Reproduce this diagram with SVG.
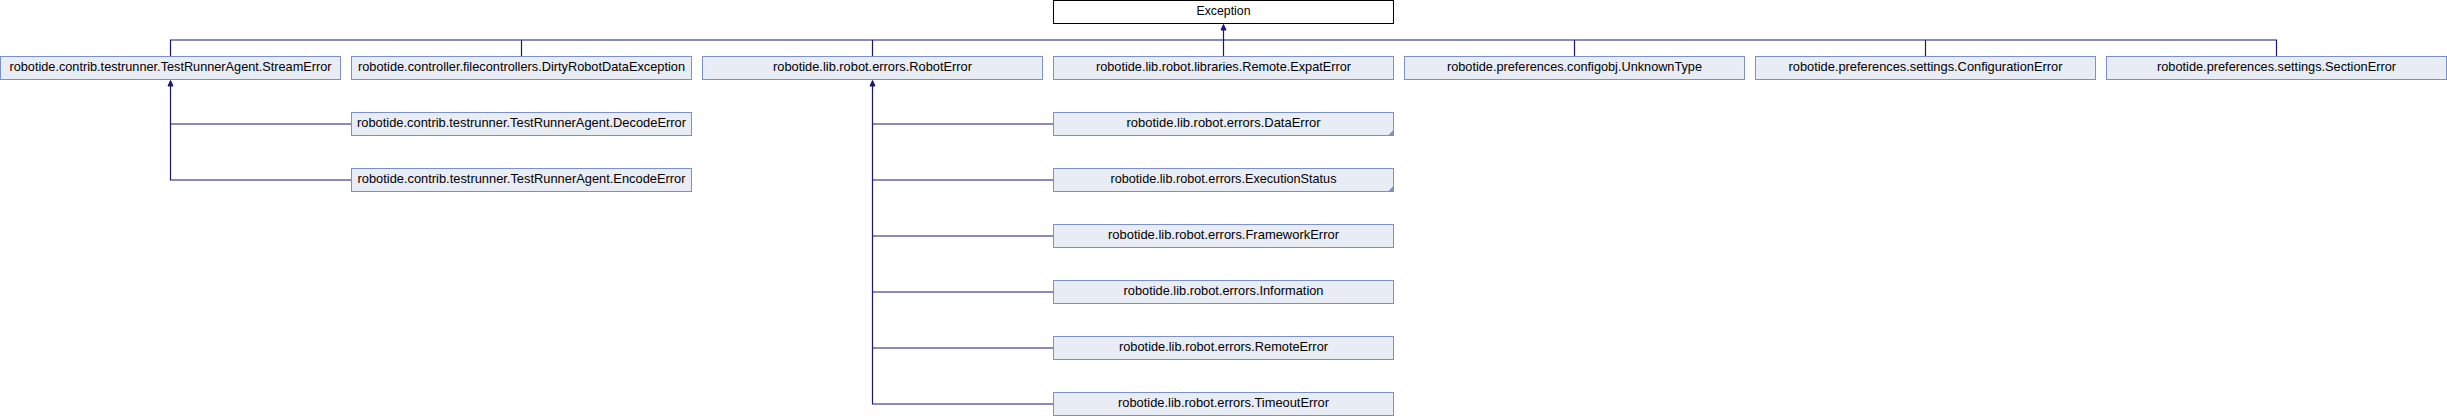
<svg xmlns="http://www.w3.org/2000/svg" width="2447" height="416" viewBox="0 0 2447 416">
<style>
.n{fill:#e8ecf5;stroke:#7b8fc9;stroke-width:1}
.w{fill:#ffffff;stroke:#000000;stroke-width:1}
.t{font-family:"Liberation Sans",Arial,sans-serif;font-size:12.7px;fill:#000000;text-anchor:middle}
.e{fill:none;stroke:#191970;stroke-width:1.2}
.a{fill:#191970;stroke:#191970;stroke-width:1}
.c{fill:#7b8fc9}
</style>
<rect width="2447" height="416" fill="#ffffff"/>
<g id="connectors">
<path class="e" d="M1223.5,30 V56.5 M170.5,56.5 V40 H2276.5 V56.5 M521.5,40 V56.5 M872.5,40 V56.5 M1574.5,40 V56.5 M1925.5,40 V56.5"/>
<polygon class="a" points="1223.5,24.5 1226,30 1221,30"/>
<path class="e" d="M170.5,86 V180 H351.5 M170.5,124 H351.5"/>
<polygon class="a" points="170.5,80.5 173,86 168,86"/>
<path class="e" d="M872.5,86 V404 H1053.5 M872.5,124 H1053.5 M872.5,180 H1053.5 M872.5,236 H1053.5 M872.5,292 H1053.5 M872.5,348 H1053.5"/>
<polygon class="a" points="872.5,80.5 875,86 870,86"/>
</g>
<g id="node-exception"><rect class="w" x="1053.5" y="0.5" width="340" height="23"/><text class="t" x="1223.5" y="15.3" textLength="54" lengthAdjust="spacingAndGlyphs">Exception</text></g>
<g id="node-streamerror"><rect class="n" x="0.5" y="56.5" width="340" height="23"/><text class="t" x="170.5" y="71" textLength="322" lengthAdjust="spacingAndGlyphs">robotide.contrib.testrunner.TestRunnerAgent.StreamError</text></g>
<g id="node-dirty"><rect class="n" x="351.5" y="56.5" width="340" height="23"/><text class="t" x="521.5" y="71" textLength="327" lengthAdjust="spacingAndGlyphs">robotide.controller.filecontrollers.DirtyRobotDataException</text></g>
<g id="node-roboterror"><rect class="n" x="702.5" y="56.5" width="340" height="23"/><text class="t" x="872.5" y="71" textLength="199" lengthAdjust="spacingAndGlyphs">robotide.lib.robot.errors.RobotError</text></g>
<g id="node-expaterror"><rect class="n" x="1053.5" y="56.5" width="340" height="23"/><text class="t" x="1223.5" y="71" textLength="255" lengthAdjust="spacingAndGlyphs">robotide.lib.robot.libraries.Remote.ExpatError</text></g>
<g id="node-unknowntype"><rect class="n" x="1404.5" y="56.5" width="340" height="23"/><text class="t" x="1574.5" y="71" textLength="255" lengthAdjust="spacingAndGlyphs">robotide.preferences.configobj.UnknownType</text></g>
<g id="node-configerror"><rect class="n" x="1755.5" y="56.5" width="340" height="23"/><text class="t" x="1925.5" y="71" textLength="274" lengthAdjust="spacingAndGlyphs">robotide.preferences.settings.ConfigurationError</text></g>
<g id="node-sectionerror"><rect class="n" x="2106.5" y="56.5" width="340" height="23"/><text class="t" x="2276.5" y="71" textLength="239" lengthAdjust="spacingAndGlyphs">robotide.preferences.settings.SectionError</text></g>
<g id="node-decodeerror"><rect class="n" x="351.5" y="112.5" width="340" height="23"/><text class="t" x="521.5" y="127" textLength="329" lengthAdjust="spacingAndGlyphs">robotide.contrib.testrunner.TestRunnerAgent.DecodeError</text></g>
<g id="node-encodeerror"><rect class="n" x="351.5" y="168.5" width="340" height="23"/><text class="t" x="521.5" y="183" textLength="328" lengthAdjust="spacingAndGlyphs">robotide.contrib.testrunner.TestRunnerAgent.EncodeError</text></g>
<g id="node-dataerror"><rect class="n" x="1053.5" y="112.5" width="340" height="23"/><polygon class="c" points="1393.5,130 1393.5,135.5 1388,135.5"/><text class="t" x="1223.5" y="127" textLength="194" lengthAdjust="spacingAndGlyphs">robotide.lib.robot.errors.DataError</text></g>
<g id="node-executionstatus"><rect class="n" x="1053.5" y="168.5" width="340" height="23"/><polygon class="c" points="1393.5,186 1393.5,191.5 1388,191.5"/><text class="t" x="1223.5" y="183" textLength="226" lengthAdjust="spacingAndGlyphs">robotide.lib.robot.errors.ExecutionStatus</text></g>
<g id="node-frameworkerror"><rect class="n" x="1053.5" y="224.5" width="340" height="23"/><text class="t" x="1223.5" y="239" textLength="231" lengthAdjust="spacingAndGlyphs">robotide.lib.robot.errors.FrameworkError</text></g>
<g id="node-information"><rect class="n" x="1053.5" y="280.5" width="340" height="23"/><text class="t" x="1223.5" y="295" textLength="200" lengthAdjust="spacingAndGlyphs">robotide.lib.robot.errors.Information</text></g>
<g id="node-remoteerror"><rect class="n" x="1053.5" y="336.5" width="340" height="23"/><text class="t" x="1223.5" y="351" textLength="209" lengthAdjust="spacingAndGlyphs">robotide.lib.robot.errors.RemoteError</text></g>
<g id="node-timeouterror"><rect class="n" x="1053.5" y="392.5" width="340" height="23"/><text class="t" x="1223.5" y="407" textLength="211" lengthAdjust="spacingAndGlyphs">robotide.lib.robot.errors.TimeoutError</text></g>
</svg>
